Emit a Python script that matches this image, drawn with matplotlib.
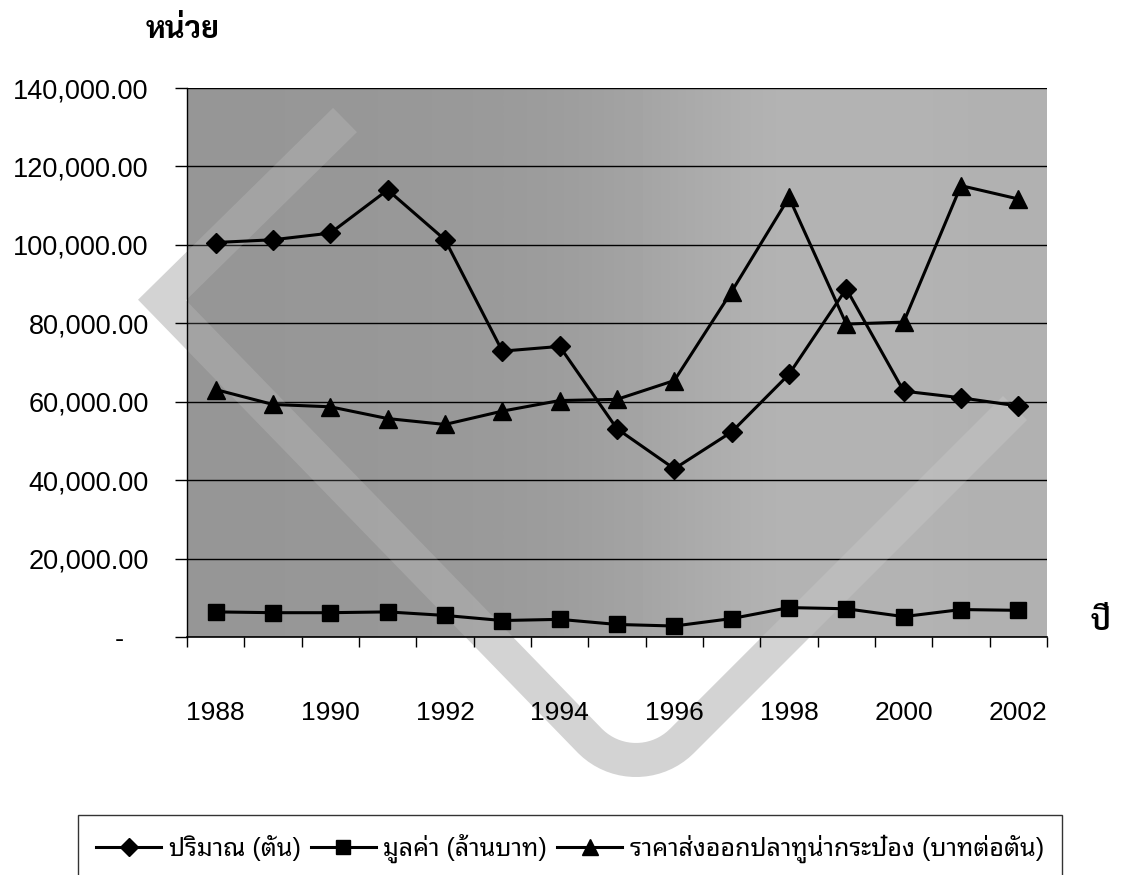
import matplotlib
matplotlib.use('Agg')
import matplotlib.pyplot as plt
import numpy as np
from matplotlib import font_manager
from matplotlib.path import Path
from matplotlib.patches import PathPatch
from matplotlib.transforms import IdentityTransform, ScaledTranslation
from matplotlib.ticker import FuncFormatter

# data
years = ['1988', '1989', '1990', '1991', '1992', '1993', '1994', '1995',
         '1996', '1997', '1998', '1999', '2000', '2001', '2002']
quantity = [100600, 101300, 103000, 114000, 101300, 72900, 74100, 53100,
            42900, 52300, 67000, 88800, 62700, 61000, 58900]
value = [6400, 6200, 6200, 6400, 5500, 4200, 4500, 3200,
         2800, 4700, 7500, 7200, 5200, 7000, 6800]
price = [63100, 59300, 58700, 55700, 54200, 57600, 60300, 60600,
         65400, 88100, 112100, 79800, 80300, 115100, 111700]
series_names = ['ปริมาณ (ตัน)', 'มูลค่า (ล้านบาท)',
                'ราคาส่งออกปลาทูน่ากระป๋อง (บาทต่อตัน)']
y_ticks = [0, 20000, 40000, 60000, 80000, 100000, 120000, 140000]

# pick Thai fonts that are installed (regular, and one that has a bold face)
fonts = font_manager.fontManager.ttflist
candidates = ['Noto Sans Thai Looped', 'Sarabun', 'Noto Sans Thai', 'Bai Jamjuree']
thai = 'DejaVu Sans'
for name in candidates:
    if any(f.name == name for f in fonts):
        thai = name
        break
thai_bold = thai
for name in candidates:
    if any(f.name == name and f.weight in (700, 'bold') for f in fonts):
        thai_bold = name
        break
plt.rcParams['font.family'] = ['Liberation Sans', thai]

W, H = 1123, 875
fig = plt.figure(figsize=(W / 100, H / 100), dpi=100)
fig.patch.set_facecolor('white')

# plot area in pixels: left 187, right 1047, top 88, bottom 637
ax = fig.add_axes([187 / W, 1 - 637 / H, 860 / W, 549 / H])
ax.set_axisbelow(True)

x = np.arange(len(years))
# scanned background: darker left, lighter right
ax.imshow([[150, 152, 158, 185, 176]], cmap='gray', vmin=0, vmax=255,
          extent=(-0.5, len(years) - 0.5, 0, 140000), aspect='auto',
          interpolation='bicubic', zorder=0)

ax.plot(x, quantity, color='black', lw=2.2, marker='D', ms=10.5, zorder=3,
        label=series_names[0])
ax.plot(x, value, color='black', lw=2.2, marker='s', ms=12, zorder=3,
        label=series_names[1])
ax.plot(x, price, color='black', lw=2.2, marker='^', ms=13, zorder=3,
        label=series_names[2])

ax.set_xlim(-0.5, len(years) - 0.5)
ax.set_ylim(0, 140000)
ax.set_yticks(y_ticks)
ax.yaxis.set_major_formatter(FuncFormatter(
    lambda v, p: '-' if v == 0 else '{:,.2f}'.format(v)))
ax.yaxis.grid(True, color='black', linewidth=1.0, zorder=1)

ax.set_xticks(np.arange(-0.5, len(years), 1))
ax.set_xticklabels([])
ax.set_xticks(x[::2], minor=True)
ax.set_xticklabels(years[::2], minor=True)

ax.tick_params(axis='x', which='major', length=7, width=1, direction='out')
ax.tick_params(axis='x', which='minor', length=0, pad=46, labelsize=19)
ax.tick_params(axis='y', length=8.5, width=1, direction='out', pad=19, labelsize=19.5)

for s in ['top', 'right']:
    ax.spines[s].set_visible(False)
ax.spines['left'].set_linewidth(1.0)
ax.spines['bottom'].set_linewidth(1.2)

# zero label sits further left, as in the sheet
lab0 = ax.yaxis.get_major_ticks()[0].label1
lab0.set_transform(lab0.get_transform() + ScaledTranslation(-25 / 100, 0, fig.dpi_scale_trans))

# watermark: big diamond-like stroke (pixel coords, origin bottom-left)
arc_a = np.radians(np.linspace(-135, -45, 20))
arc = np.column_stack([636 + 65 * np.cos(arc_a), 180 + 65 * np.sin(arc_a)])
verts = np.vstack([[[345, 755], [162, 575]], arc, [[1015, 467]]])
wm_path = Path(verts)
outer = PathPatch(wm_path, fill=False, edgecolor='#d3d3d3', lw=24.5,
                  joinstyle='miter', capstyle='butt',
                  transform=IdentityTransform(), zorder=-1)
fig.add_artist(outer)
inner = PathPatch(wm_path, fill=False, edgecolor='white', lw=24.5, alpha=0.13,
                  joinstyle='miter', capstyle='butt',
                  transform=IdentityTransform(), zorder=0.8)
ax.add_patch(inner)

fig.text(183 / W, 1 - 30 / H, 'หน่วย', ha='center', va='center',
         fontsize=22, fontweight='bold', family=[thai_bold])
fig.text(1100 / W, 1 - 622 / H, 'ปี', ha='center', va='center',
         fontsize=21, fontweight='bold', family=[thai_bold])

leg = fig.legend(loc='upper center', bbox_to_anchor=(570 / W, 1 - 815 / H), ncol=3,
                 fontsize=18, frameon=True, fancybox=False, edgecolor='black',
                 handlelength=2.6, handletextpad=0.3, columnspacing=0.4,
                 borderpad=0.75, borderaxespad=0, markerscale=0.85)
leg.get_frame().set_linewidth(1.0)

fig.savefig('out.png', dpi=100)
